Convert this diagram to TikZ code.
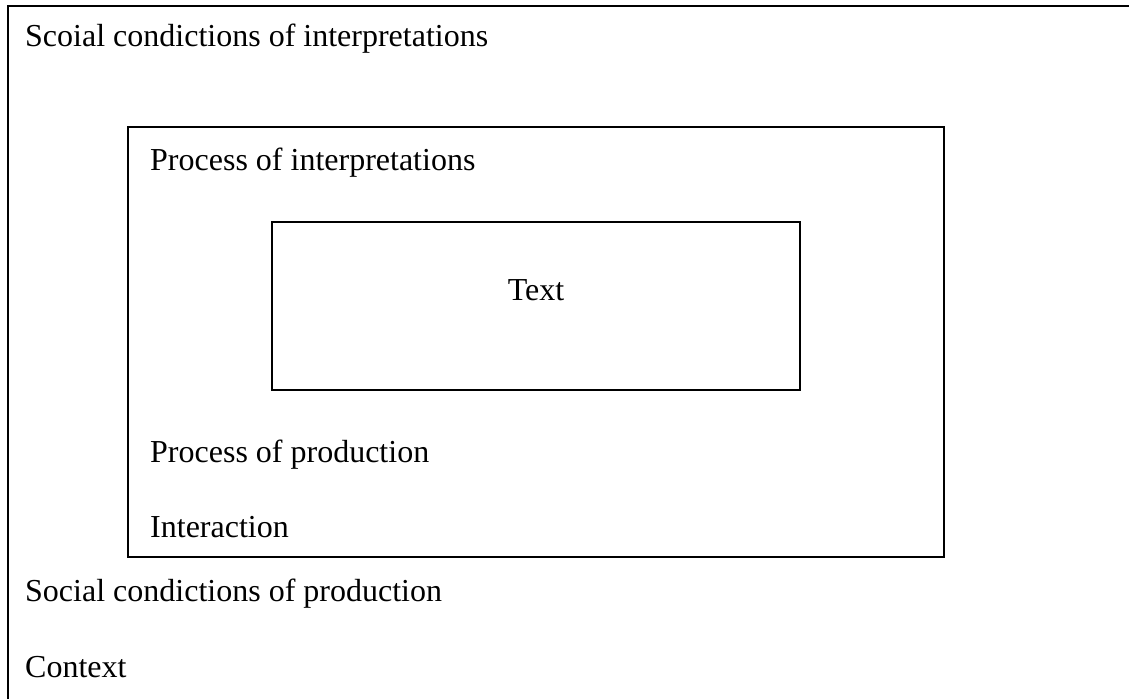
\documentclass[tikz,border=0pt]{standalone}
\usepackage{fontspec}
\setmainfont{Liberation Serif}
\usetikzlibrary{positioning}
\tikzset{
  frame/.style={draw=black,line width=1.6pt},
  lbl/.style={anchor=base west,inner sep=0pt,font=\fontsize{32}{37}\selectfont}
}

\begin{document}
\begin{tikzpicture}[x=1pt,y=1pt]
\useasboundingbox (0,0) rectangle (1129,-699);
% outer context frame (cut off at right and bottom)
\draw[frame] (8,-699) -- (8,-6) -- (1129,-6);
% interaction box
\draw[frame] (128,-127) rectangle (944,-557);
% text box
\draw[frame] (272,-222) rectangle (800,-390);
% labels
\node[lbl] (scoial) at (25,-46) {Scoial condictions of interpretations};
\node[lbl] (procint) at (150,-170) {Process of interpretations};
\node[lbl,anchor=base] (text) at (536,-300) {Text};
\node[lbl] (procprod) at (150,-462) {Process of production};
\node[lbl] (inter) at (150,-537) {Interaction};
\node[lbl] (social) at (25,-601) {Social condictions of production};
\node[lbl] (context) at (25,-677) {Context};
\end{tikzpicture}
\end{document}
